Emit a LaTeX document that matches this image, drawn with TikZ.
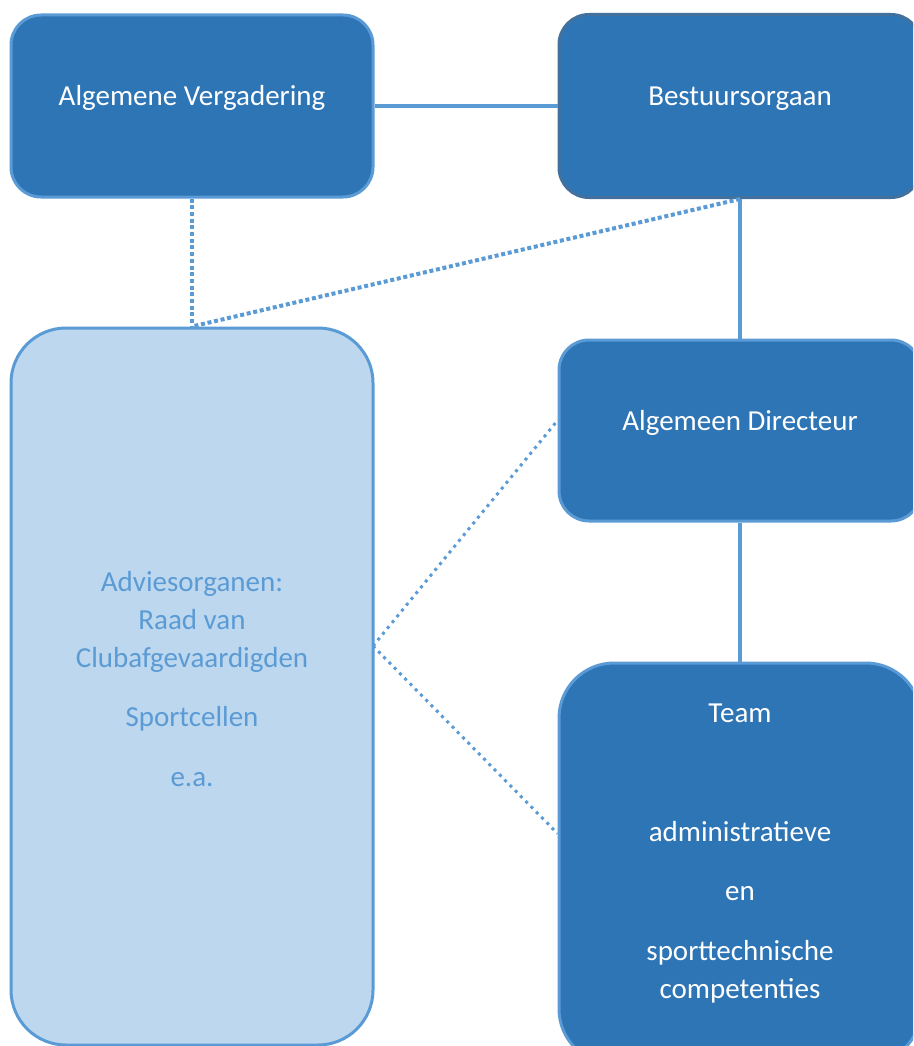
\documentclass[tikz,border=0pt]{standalone}
\usepackage{fontspec}
\setmainfont{Carlito}
\usetikzlibrary{positioning}
\definecolor{orgblue}{HTML}{2E75B6}
\definecolor{orgedge}{HTML}{5B9BD5}
\definecolor{orgdark}{HTML}{41719C}
\definecolor{orglight}{HTML}{BDD7EE}
\tikzset{
unit/.style={rectangle, rounded corners=30pt, line width=3pt, fill=orgblue, draw=orgedge, minimum width=362pt, minimum height=182pt, inner sep=0pt}, % dark boxes
advbox/.style={unit, rounded corners=55pt, fill=orglight, minimum height=717pt}, % the tall light box
lbl/.style={anchor=base, inner sep=0pt, text=white, font=\fontsize{29pt}{35pt}\selectfont},
advlbl/.style={lbl, text=orgedge},
link/.style={line width=3.5pt, draw=orgedge},
dots/.style={line width=4pt, draw=orgedge, dash pattern=on 4pt off 2.7pt},
smalldots/.style={line width=3pt, draw=orgedge, dash pattern=on 3pt off 4.5pt},
}
\begin{document}
\begin{tikzpicture}[x=1pt, y=-1pt]
\clip (0,0) rectangle (913,1046);
% boxes
\node[unit] (av) at (192,106) {};
\node[unit, draw=orgdark, minimum height=183pt] (bestuur) at (740,106) {};
\node[unit, minimum height=181pt] (directeur) at (740,430.5) {};
\node[unit, rounded corners=55pt, minimum height=401pt] (team) at (740,863.5) {};
\node[advbox] (advies) at (192,686.5) {};
% texts
\node[lbl] (avtxt) at (192,106) {Algemene Vergadering};
\node[lbl] (bestuurtxt) at (740,106) {Bestuursorgaan};
\node[lbl] (directeurtxt) at (740,430) {Algemeen Directeur};
\node[lbl] (teamtxt) at (740,722) {Team};
\node[lbl] (teamtxta) at (740,841) {administratieve};
\node[lbl] (teamtxtb) at (740,900) {en};
\node[lbl] (teamtxtc) at (740,960) {sporttechnische};
\node[lbl] (teamtxtd) at (740,998) {competenties};
\node[advlbl] (adviestxt) at (192,591) {Adviesorganen:};
\node[advlbl] (adviestxta) at (192,629) {Raad van};
\node[advlbl] (adviestxtb) at (192,667) {Clubafgevaardigden};
\node[advlbl] (adviestxtc) at (192,726) {Sportcellen};
\node[advlbl] (adviestxtd) at (192,786) {e.a.};
% connectors
\draw[link] (av) -- (bestuur);
\draw[link] (bestuur) -- (directeur);
\draw[link] (directeur) -- (team);
\draw[dots] (av) -- (advies);
\draw[dots] (bestuur.south) -- (advies.north);
\coordinate (advpt) at (373,646);
\draw[smalldots] (advpt) -- ([yshift=10pt]directeur.west);
\draw[smalldots] (advpt) -- ([yshift=30pt]team.west);
\end{tikzpicture}
\end{document}
